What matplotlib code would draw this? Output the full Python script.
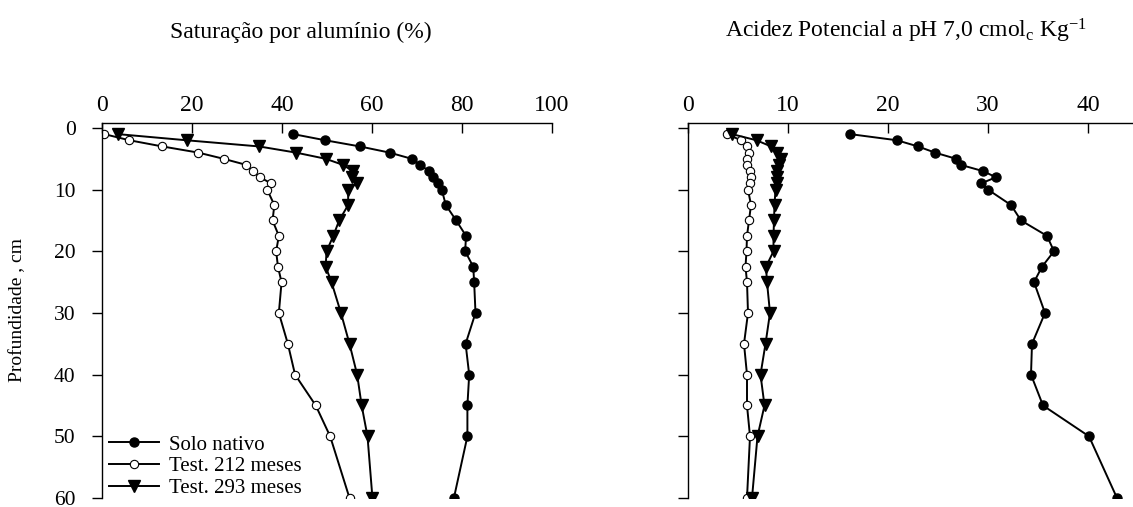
import matplotlib
matplotlib.use("Agg")
import matplotlib.pyplot as plt

plt.rcParams['font.family'] = ['Liberation Serif', 'DejaVu Serif']
plt.rcParams['mathtext.fontset'] = 'custom'
plt.rcParams['mathtext.rm'] = 'Liberation Serif'
plt.rcParams['mathtext.it'] = 'Liberation Serif:italic'

depth = [1, 2, 3, 4, 5, 6, 7, 8, 9, 10, 12.5, 15, 17.5, 20, 22.5, 25, 30, 35, 40, 45, 50, 60]

# Saturação por alumínio (%)
sat_nativo = [42.5, 49.6, 57.3, 63.9, 68.8, 70.7, 72.7, 73.5, 74.7, 75.5, 76.4, 78.7, 80.9,
              80.7, 82.5, 82.7, 83.0, 80.8, 81.6, 81.2, 81.2, 78.2]
sat_212 = [0.5, 6.1, 13.4, 21.4, 27.0, 32.1, 33.5, 35.1, 37.6, 36.7, 38.3, 37.9, 39.3,
           38.7, 39.1, 39.9, 39.3, 41.3, 42.9, 47.5, 50.7, 55.0]
sat_293 = [3.5, 18.8, 34.9, 43.1, 49.7, 53.6, 55.7, 55.5, 56.6, 54.7, 54.7, 52.7, 51.4,
           49.9, 49.7, 51.0, 53.1, 55.0, 56.7, 57.7, 59.0, 60.1]

# Acidez potencial (cmolc/kg)
ac_nativo = [16.2, 20.9, 23.0, 24.7, 26.8, 27.3, 29.5, 30.8, 29.3, 30.0, 32.3, 33.3, 35.9,
             36.6, 35.4, 34.6, 35.7, 34.4, 34.3, 35.5, 40.1, 42.9]
ac_212 = [3.9, 5.3, 5.9, 6.1, 5.9, 5.9, 6.2, 6.3, 6.2, 6.0, 6.3, 6.1, 5.9,
          5.85, 5.75, 5.9, 6.0, 5.6, 5.9, 5.9, 6.2, 5.9]
ac_293 = [4.4, 6.85, 8.3, 8.9, 9.3, 9.1, 8.85, 8.9, 8.85, 8.75, 8.65, 8.6, 8.55,
          8.55, 7.8, 7.9, 8.2, 7.75, 7.25, 7.65, 6.95, 6.4]

labels = ['Solo nativo', 'Test. 212 meses', 'Test. 293 meses']
left_xticks = [0, 20, 40, 60, 80, 100]
right_xticks = [0, 10, 20, 30, 40]
yticks = [0, 10, 20, 30, 40, 50, 60]

W, H = 1133, 507
fig = plt.figure(figsize=(W / 100, H / 100), dpi=100)

ax1 = fig.add_axes([102 / W, 1 - 498 / H, 450 / W, 375 / H])
ax2 = fig.add_axes([688 / W, 1 - 498 / H, 445 / W, 375 / H])

lw = 1.4
for ax, series, xlim, xt in [
    (ax1, (sat_nativo, sat_212, sat_293), (0, 100), left_xticks),
    (ax2, (ac_nativo, ac_212, ac_293), (0, 44.5), right_xticks),
]:
    ax.plot(series[0], depth, '-o', color='black', lw=lw, ms=6.5, mfc='black', mec='black',
            label=labels[0])
    ax.plot(series[1], depth, '-o', color='black', lw=lw, ms=6, mfc='white', mec='black',
            mew=0.8, label=labels[1])
    ax.plot(series[2], depth, '-v', color='black', lw=lw, ms=8, mfc='black', mec='black',
            label=labels[2])
    ax.set_xlim(*xlim)
    ax.set_ylim(60, -0.8)
    ax.set_xticks(xt)
    ax.set_yticks(yticks)
    ax.xaxis.tick_top()
    ax.spines['right'].set_visible(False)
    ax.spines['bottom'].set_visible(False)
    for s in ('top', 'left'):
        ax.spines[s].set_linewidth(1.0)
    ax.tick_params(axis='x', direction='in', length=7, width=1.0, pad=5, labelsize=17,
                   top=True, bottom=False)
    ax.tick_params(axis='y', direction='out', length=7, width=1.0, pad=12, labelsize=15.5)

ax2.set_yticklabels([])
ax1.set_ylabel('Profundidade , cm', fontsize=14)
ax1.yaxis.set_label_coords(-(102 - 26) / 450, 0.5)

fig.text(301 / W, 1 - 38 / H, 'Saturação por alumínio (%)', ha='center', va='baseline', fontsize=17)
fig.text(725 / W, 1 - 38 / H, r'Acidez Potencial a pH 7,0 cmol$_\mathrm{c}$ Kg$^{-1}$',
         ha='left', va='baseline', fontsize=17)

ax1.legend(loc='lower left', bbox_to_anchor=(0.015, 0.0), frameon=False, fontsize=15,
           handlelength=2.4, handletextpad=0.5, labelspacing=0.1, borderpad=0, borderaxespad=0)

fig.savefig('out.png', dpi=100)
